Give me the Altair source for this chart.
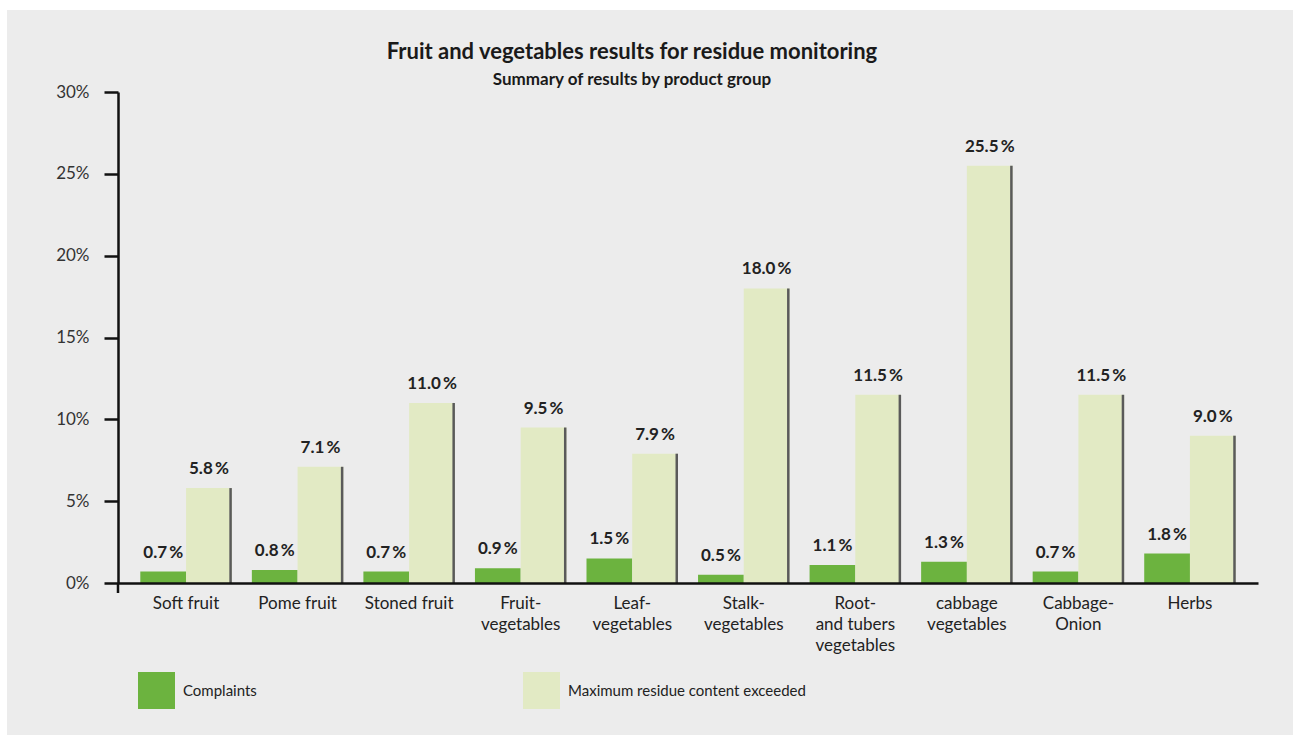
import altair as alt
import pandas as pd

categories = ["Soft fruit", "Pome fruit", "Stoned fruit", "Fruit-\nvegetables", "Leaf-\nvegetables",
              "Stalk-\nvegetables", "Root-\nand tubers\nvegetables", "cabbage\nvegetables",
              "Cabbage-\nOnion", "Herbs"]
complaints = [0.7, 0.8, 0.7, 0.9, 1.5, 0.5, 1.1, 1.3, 0.7, 1.8]
exceeded = [5.8, 7.1, 11.0, 9.5, 7.9, 18.0, 11.5, 25.5, 11.5, 9.0]
series = ["Complaints", "Maximum residue content exceeded"]
colors = ["#6cb33f", "#e2eac4"]
y_ticks = [0, 5, 10, 15, 20, 25, 30]
title_text = "Fruit and vegetables results for residue monitoring"
subtitle_text = "Summary of results by product group"

rows = []
for c, a, b in zip(categories, complaints, exceeded):
    rows.append({"cat": c, "series": series[0], "value": a, "label": f"{a:.1f}\u2009%"})
    rows.append({"cat": c, "series": series[1], "value": b, "label": f"{b:.1f}\u2009%"})
df = pd.DataFrame(rows)

FONT = "Lato"
W, H = 1140, 491

x_enc = alt.X("cat:N", sort=categories,
              scale=alt.Scale(paddingInner=0.18, paddingOuter=0.2),
              axis=alt.Axis(title=None, labelExpr="split(datum.label, '\\n')", labelAngle=0,
                            ticks=False, domainColor="#111111", domainWidth=2.5,
                            labelFontSize=17, labelColor="#222222", labelPadding=12,
                            labelLineHeight=21, labelFont=FONT, labelBaseline="top",
                            zindex=1))
y_enc = alt.Y("value:Q", scale=alt.Scale(domain=[0, 30], nice=False),
              axis=alt.Axis(title=None, values=y_ticks, labelExpr="datum.value + '%'",
                            tickSize=14, tickWidth=2.5, tickColor="#111111",
                            domainWidth=2.5, domainColor="#111111", grid=False,
                            labelPadding=15, labelFontSize=17, labelColor="#333333",
                            labelFont=FONT, zindex=1))
xoff = alt.XOffset("series:N", sort=series, scale=alt.Scale(paddingInner=0, paddingOuter=0))
color_enc = alt.Color("series:N", sort=series,
                      scale=alt.Scale(domain=series, range=colors),
                      legend=alt.Legend(title=None, orient="none", legendX=20, legendY=580,
                                        direction="horizontal", symbolType="square",
                                        symbolSize=1369, symbolStrokeWidth=0,
                                        labelFontSize=15, labelFont=FONT, labelColor="#222222",
                                        labelOffset=8, columnPadding=266, labelLimit=400))

one = pd.DataFrame({"a": [0]})
bg = alt.Chart(one).mark_rect(color="#ececec").encode(
    x=alt.value(-111), x2=alt.value(W + 35), y=alt.value(-82), y2=alt.value(H + 152))

bars = alt.Chart(df).mark_bar().encode(x=x_enc, xOffset=xoff, y=y_enc, color=color_enc)

edge = alt.Chart(df).transform_filter(alt.datum.series == series[1]).mark_rule(
    color="#5a5a5a", strokeWidth=2.5, xOffset=-1.2).encode(
    x=alt.X("cat:N", sort=categories, bandPosition=1), y="value:Q", y2=alt.datum(0))

labels = alt.Chart(df).mark_text(dy=-10, baseline="bottom", fontSize=17, fontWeight="bold",
                                 font=FONT, color="#222222").encode(
    x=alt.X("cat:N", sort=categories), xOffset=xoff, y="value:Q", text="label:N")

ext = alt.Chart(one).mark_rule(color="#111111", strokeWidth=2.5).encode(
    x=alt.value(0), y=alt.value(H), y2=alt.value(H + 10))

title = alt.Chart(one).mark_text(fontSize=22, fontWeight="bold", font=FONT, color="#1a1a1a",
                                 align="center", baseline="alphabetic").encode(
    x=alt.value(514), y=alt.value(-33), text=alt.value(title_text))
subtitle = alt.Chart(one).mark_text(fontSize=17, fontWeight="bold", font=FONT, color="#1a1a1a",
                                    align="center", baseline="alphabetic").encode(
    x=alt.value(514), y=alt.value(-7), text=alt.value(subtitle_text))

chart = alt.layer(bg, bars, edge, labels, ext, title, subtitle).properties(
    width=W, height=H,
    autosize=alt.AutoSizeParams(type="none"),
    padding={"left": 118, "top": 92, "right": 1299 - 118 - W, "bottom": 745 - 92 - H},
    background="#ffffff",
).configure_view(stroke=None)

chart.save("out.html", embed_options={"renderer": "svg", "actions": False})
